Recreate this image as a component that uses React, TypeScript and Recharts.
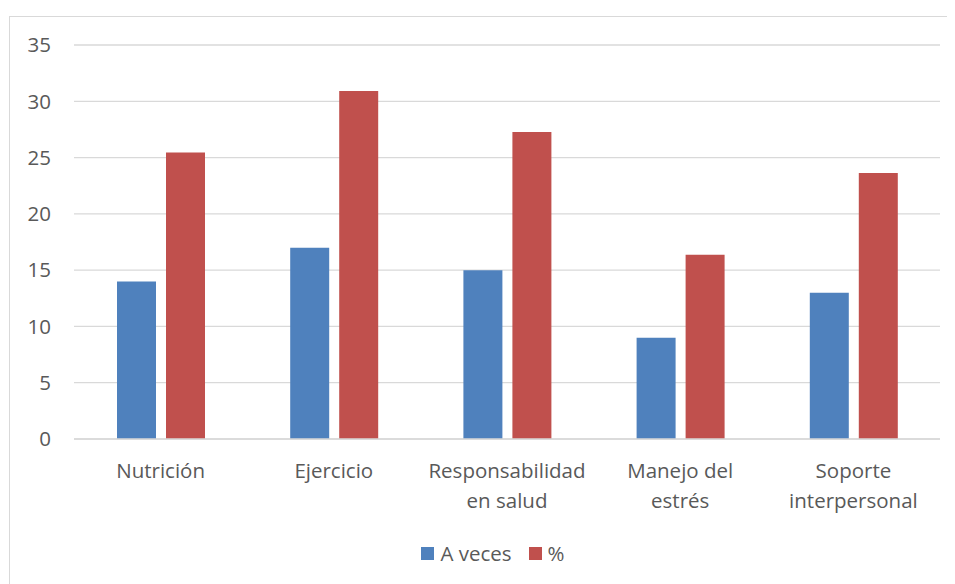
import React from 'react';
import { BarChart, Bar, XAxis, YAxis, CartesianGrid, Legend } from 'recharts';

const categories = [
  'Nutrición',
  'Ejercicio',
  'Responsabilidad\nen salud',
  'Manejo del\nestrés',
  'Soporte\ninterpersonal',
];
const aVeces = [14, 17, 15, 9, 13];
const percent = [25.45, 30.91, 27.27, 16.36, 23.64];
const yTicks = [0, 5, 10, 15, 20, 25, 30, 35];

const BLUE = '#4F81BD';
const RED = '#C0504D';
const TEXT = '#595959';
const FONT = '"Open Sans", sans-serif';
const FS = 20.5;

const data = categories.map((name, i) => ({
  name,
  aVeces: aVeces[i],
  percent: percent[i],
}));

const CategoryTick = (props: any) => {
  const { x, y, payload } = props;
  const lines = String(payload.value).split('\n');
  return (
    <g transform={`translate(${x},${y})`}>
      {lines.map((line, i) => (
        <text
          key={i}
          x={0}
          y={23 + i * 30}
          textAnchor="middle"
          dominantBaseline="central"
          fill={TEXT}
          fontSize={FS}
          fontFamily={FONT}
        >
          {line}
        </text>
      ))}
    </g>
  );
};

const LegendContent = () => (
  <div
    style={{
      height: 60,
      display: 'flex',
      alignItems: 'center',
      justifyContent: 'center',
      paddingLeft: 36,
      fontFamily: FONT,
      fontSize: FS,
      color: TEXT,
    }}
  >
    <span style={{ display: 'inline-block', width: 13, height: 13, background: BLUE, marginRight: 6 }} />
    <span style={{ marginRight: 17 }}>A veces</span>
    <span style={{ display: 'inline-block', width: 13, height: 13, background: RED, marginRight: 6 }} />
    <span>%</span>
  </div>
);

export default function App() {
  return (
    <div
      style={{
        width: 940,
        height: 568,
        marginLeft: 1,
        marginTop: 8,
        border: '1px solid #d9d9d9',
        background: '#fff',
      }}
    >
      <BarChart
        width={940}
        height={566}
        data={data}
        margin={{ top: 28, right: 10, left: 0, bottom: 0 }}
        barGap={10}
        barSize={39}
      >
        <CartesianGrid vertical={false} stroke="#d9d9d9" strokeWidth={1.3} />
        <XAxis
          dataKey="name"
          height={84}
          interval={0}
          axisLine={{ stroke: '#d9d9d9', strokeWidth: 1.3 }}
          tickLine={false}
          tick={<CategoryTick />}
        />
        <YAxis
          width={64}
          domain={[0, 35]}
          ticks={yTicks}
          axisLine={false}
          tickLine={false}
          tickSize={0}
          tickMargin={23}
          tick={{ fill: TEXT, fontSize: FS, fontFamily: FONT }}
        />
        <Legend verticalAlign="bottom" content={<LegendContent />} />
        <Bar dataKey="aVeces" name="A veces" fill={BLUE} isAnimationActive={false} />
        <Bar dataKey="percent" name="%" fill={RED} isAnimationActive={false} />
      </BarChart>
    </div>
  );
}
